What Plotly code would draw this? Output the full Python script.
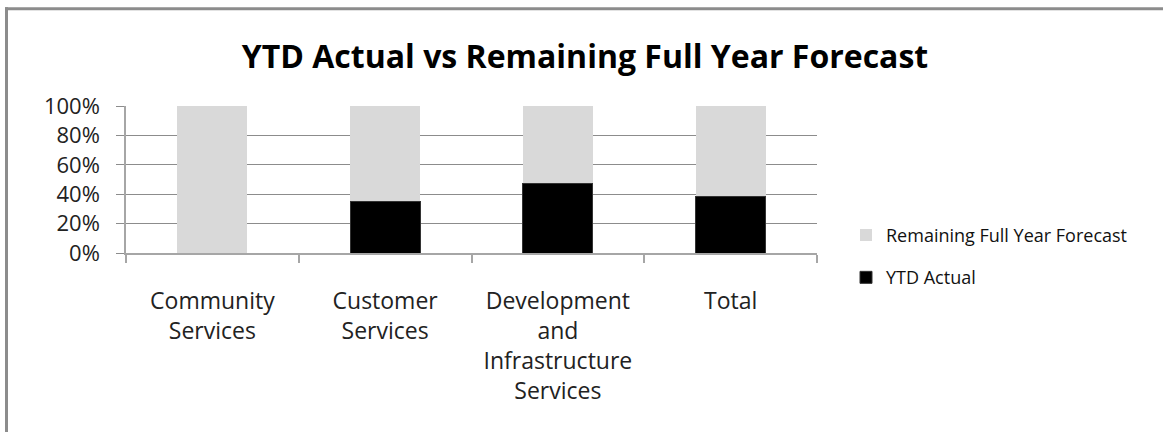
import plotly.graph_objects as go

categories = ["Community<br>Services", "Customer<br>Services",
              "Development<br>and<br>Infrastructure<br>Services", "Total"]
ytd_actual = [0.0, 0.353, 0.473, 0.385]
remaining = [1.0, 0.647, 0.527, 0.615]

W, H = 1163, 432
L, R, T, B = 126, 817, 105.5, 253.5
pw, ph = R - L, B - T


def px_x(x):
    return (x - L) / pw


def px_y(y):
    return (B - y) / ph


fig = go.Figure()
fig.add_trace(go.Bar(x=categories, y=ytd_actual, name="YTD Actual",
                     marker=dict(color="#000000", line=dict(color="#333333", width=1)),
                     legendgroup="b", legendrank=2))
fig.add_trace(go.Bar(x=categories, y=remaining, name="Remaining Full Year Forecast",
                     marker=dict(color="#D9D9D9", line=dict(width=0)),
                     legendgroup="a", legendrank=1))

font_title = "Open Sans, sans-serif"
font_tick = "Open Sans, sans-serif"

fig.update_layout(
    width=W, height=H,
    barmode="stack", bargap=0.595,
    paper_bgcolor="white", plot_bgcolor="white",
    margin=dict(l=L, r=W - R, t=T, b=H - B, pad=0),
    title=dict(text="<b>YTD Actual vs Remaining Full Year Forecast</b>",
               x=585 / W, xanchor="center", xref="container",
               y=1 - 57 / H, yanchor="middle", yref="container",
               font=dict(family=font_title, size=32, color="#000000")),
    legend=dict(x=px_x(846), xanchor="left", y=px_y(217), yanchor="top",
                font=dict(family=font_tick, size=18, color="#111111"),
                traceorder="grouped", tracegroupgap=16,
                itemwidth=30, bgcolor="rgba(0,0,0,0)"),
    xaxis=dict(type="category", showgrid=False, showline=True,
               linecolor="#A6A6A6", linewidth=1.5,
               ticks="outside", ticklen=8, tickcolor="#A6A6A6", tickwidth=1.5,
               tickson="boundaries", ticklabelstandoff=27,
               tickfont=dict(family=font_tick, size=23, color="#222222")),
    yaxis=dict(range=[0, 1], dtick=0.2, tickformat=".0%",
               showgrid=True, gridcolor="#8C8C8C", gridwidth=1,
               showline=True, linecolor="#A6A6A6", linewidth=1.5,
               ticks="outside", ticklen=8, tickcolor="#8C8C8C",
               zeroline=False, ticklabelstandoff=12,
               tickfont=dict(family=font_tick, size=22, color="#222222")),
    shapes=[
        dict(type="line", xref="paper", yref="paper",
             x0=px_x(6.5), x1=px_x(6.5), y0=px_y(6), y1=px_y(440),
             line=dict(color="#8C8C8C", width=3)),
        dict(type="line", xref="paper", yref="paper",
             x0=px_x(5), x1=px_x(1170), y0=px_y(7.5), y1=px_y(7.5),
             line=dict(color="#8C8C8C", width=3)),
    ],
)

fig.write_html("out.html")
